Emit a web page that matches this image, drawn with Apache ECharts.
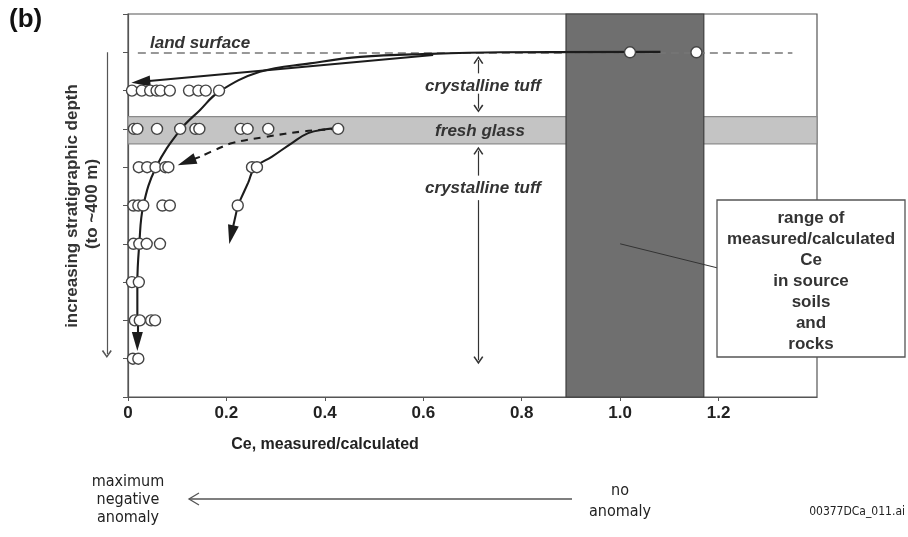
<!DOCTYPE html>
<html>
<head>
<meta charset="utf-8">
<script src="https://cdn.jsdelivr.net/npm/echarts@6/dist/echarts.min.js"></script>
<style>
  html, body { margin: 0; padding: 0; background: #ffffff; }
  #chart { width: 908px; height: 537px; }
</style>
</head>
<body>
<div id="chart"></div>
<script>
// Tick labels along the Ce axis
const xTickLabels = ['0', '0.2', '0.4', '0.6', '0.8', '1.0', '1.2'];

// Sampled horizons, from the land surface (1) downward
const depthLevels = [1, 2, 3, 4, 5, 6, 7, 8, 9];

// Ce (measured/calculated) for the samples at each horizon
const ceByLevel = [
  [1.02, 1.155],
  [0.008, 0.028, 0.045, 0.058, 0.066, 0.085, 0.124, 0.143, 0.158, 0.185],
  [0.012, 0.019, 0.059, 0.106, 0.137, 0.145, 0.229, 0.243, 0.285, 0.427],
  [0.022, 0.039, 0.056, 0.076, 0.082, 0.252, 0.262],
  [0.011, 0.021, 0.031, 0.070, 0.085, 0.223],
  [0.011, 0.023, 0.038, 0.065],
  [0.008, 0.022],
  [0.014, 0.024, 0.047, 0.055],
  [0.010, 0.021]
];

// Range of Ce in source soils and rocks
const sourceRange = [0.89, 1.17];
// Fresh-glass horizon (depth units)
const glassLayer = [2.68, 3.39];

// Trend from the land surface down through the crystalline tuff
const surfaceTrendX = [1.082, 0.757, 0.614, 0.472, 0.370, 0.268, 0.185, 0.146, 0.106, 0.057, 0.031, 0.023, 0.019, 0.019];
const surfaceTrendY = [0.99, 1.00, 1.04, 1.12, 1.29, 1.51, 2.03, 2.51, 3.03, 4.00, 5.01, 6.00, 7.02, 8.01];

// Trend from the fresh glass into the underlying tuff
const glassTrendX = [0.427, 0.401, 0.366, 0.333, 0.292, 0.258, 0.244, 0.228, 0.223];
const glassTrendY = [2.98, 3.01, 3.11, 3.37, 3.73, 4.00, 4.41, 4.86, 5.01];

// Dashed path from the fresh glass toward the tuff below
const glassDashX = [0.427, 0.36, 0.279, 0.212, 0.177, 0.146];
const glassDashY = [3.00, 3.06, 3.21, 3.37, 3.55, 3.73];

const zip = (xs, ys) => xs.map((x, i) => [x, ys[i]]);
const last = arr => arr[arr.length - 1];

const TRI = 'path://M5,0L10,18L0,18Z';
const CHEVRON = 'path://M0,9L6,0L12,9L10.4,10L6,3.3L1.6,10Z';

const sampleData = [];
ceByLevel.forEach((row, i) => row.forEach(v => sampleData.push([v, depthLevels[i]])));

const bold = "'Liberation Sans', Arial, sans-serif";
const narrow = "'Liberation Sans Narrow', 'DejaVu Sans Condensed', 'Liberation Sans', sans-serif";

const chart = echarts.init(document.getElementById('chart'), null, { renderer: 'canvas' });

const option = {
  backgroundColor: '#ffffff',
  animation: false,
  grid: {
    left: 128, right: 91, top: 14, bottom: 140,
    show: true, borderColor: '#555', borderWidth: 1.2, backgroundColor: '#ffffff'
  },
  xAxis: {
    type: 'value', min: 0, max: 1.4, interval: 0.2,
    axisLine: { onZero: false, lineStyle: { color: '#555', width: 1.2 } },
    axisTick: { show: true, length: 4, lineStyle: { color: '#555' } },
    splitLine: { show: false },
    axisLabel: {
      showMaxLabel: false,
      color: '#222', fontFamily: bold, fontWeight: 'bold', fontSize: 17, margin: 8,
      formatter: v => { const i = Math.round(v / 0.2); return xTickLabels[i] !== undefined ? xTickLabels[i] : ''; }
    }
  },
  yAxis: {
    type: 'value', min: 0, max: 10, interval: 1, inverse: true,
    axisLine: { onZero: false, lineStyle: { color: '#555', width: 1.2 } },
    axisTick: { show: true, length: 5, lineStyle: { color: '#555' } },
    axisLabel: { show: false },
    splitLine: { show: false }
  },
  series: [
    {
      // background bands
      type: 'scatter', data: [], silent: true, z: 1,
      markArea: {
        silent: true,
        data: [
          [{ yAxis: glassLayer[0], itemStyle: { color: '#c4c4c4', borderColor: '#8a8a8a', borderWidth: 1.2 } }, { yAxis: glassLayer[1] }],
          [{ xAxis: sourceRange[0], itemStyle: { color: '#6f6f6f', borderColor: '#3e3e3e', borderWidth: 1.2 } }, { xAxis: sourceRange[1] }]
        ]
      }
    },
    {
      // land surface
      type: 'lines', coordinateSystem: 'cartesian2d', silent: true, z: 2,
      lineStyle: { color: '#777', width: 1.6, type: [8, 5], opacity: 1 },
      data: [{ coords: [[0.02, depthLevels[0]], [1.35, depthLevels[0]]] }]
    },
    {
      type: 'line', data: zip(surfaceTrendX, surfaceTrendY), smooth: 0.4, showSymbol: false, silent: true, z: 3,
      lineStyle: { color: '#1c1c1c', width: 2.1 }
    },
    {
      type: 'line', data: zip(glassTrendX, glassTrendY), smooth: 0.4, showSymbol: false, silent: true, z: 3,
      lineStyle: { color: '#1c1c1c', width: 2.1 }
    },
    {
      type: 'line', data: zip(glassDashX, glassDashY), smooth: 0.4, showSymbol: false, silent: true, z: 3,
      lineStyle: { color: '#1c1c1c', width: 2.1, type: [7, 6] }
    },
    {
      // filled arrowheads on the trends
      type: 'lines', coordinateSystem: 'cartesian2d', silent: true, z: 3,
      symbol: ['none', TRI], symbolSize: [[11, 19], [11, 19]],
      lineStyle: { color: '#1c1c1c', width: 2.1, opacity: 1 },
      data: [
        { coords: [[last(surfaceTrendX), last(surfaceTrendY)], [0.019, 8.55]] },
        { coords: [[last(glassTrendX), last(glassTrendY)], [0.210, 5.76]] },
        { coords: [[0.62, 1.07], [0.026, 1.77]] },
        { coords: [[last(glassDashX), last(glassDashY)], [0.119, 3.86]], lineStyle: { type: [7, 6] } }
      ]
    },
    {
      // open arrows bracketing the tuff units
      type: 'lines', coordinateSystem: 'cartesian2d', silent: true, z: 3, clip: false,
      symbol: ['none', CHEVRON], symbolSize: [[10, 8], [10, 8]],
      lineStyle: { color: '#333', width: 1.2, opacity: 1 },
      data: [
        { coords: [[0.712, 1.55], [0.712, 1.20]] },
        { coords: [[0.712, 2.08], [0.712, 2.47]] },
        { coords: [[0.712, 4.22], [0.712, 3.57]] },
        { coords: [[0.712, 4.86], [0.712, 9.04]] },
        { coords: [[-0.043, 1.0], [-0.043, 8.88]], lineStyle: { color: '#555' } }
      ]
    },
    {
      // leader to the source-range note
      type: 'lines', coordinateSystem: 'cartesian2d', silent: true, z: 3, clip: false,
      lineStyle: { color: '#333', width: 1, opacity: 1 },
      data: [{ coords: [[1.0, 6.0], [1.198, 6.63]] }]
    },
    {
      type: 'scatter', data: sampleData, symbol: 'circle', symbolSize: 11, silent: true, z: 5,
      itemStyle: { color: '#ffffff', borderColor: '#444', borderWidth: 1.4, opacity: 1 }
    }
  ],
  graphic: [
    { type: 'text', left: 9, top: 7, z: 50, style: { text: '(b)', font: `bold 26px ${bold}`, fill: '#111' } },
    { type: 'text', x: 72, y: 206, rotation: Math.PI / 2, z: 50,
      style: { text: 'increasing stratigraphic depth', font: `bold 17px ${bold}`, fill: '#333', textAlign: 'center', textVerticalAlign: 'middle' } },
    { type: 'text', x: 92, y: 204, rotation: Math.PI / 2, z: 50,
      style: { text: '(to ~400 m)', font: `bold 17px ${bold}`, fill: '#333', textAlign: 'center', textVerticalAlign: 'middle' } },
    { type: 'text', x: 150, y: 43, z: 50,
      style: { text: 'land surface', font: `italic bold 17px ${bold}`, fill: '#333', textAlign: 'left', textVerticalAlign: 'middle' } },
    { type: 'text', x: 483, y: 86, z: 50,
      style: { text: 'crystalline tuff', font: `italic bold 17px ${bold}`, fill: '#333', textAlign: 'center', textVerticalAlign: 'middle' } },
    { type: 'text', x: 480, y: 131, z: 50,
      style: { text: 'fresh glass', font: `italic bold 17px ${bold}`, fill: '#333', textAlign: 'center', textVerticalAlign: 'middle' } },
    { type: 'text', x: 483, y: 188, z: 50,
      style: { text: 'crystalline tuff', font: `italic bold 17px ${bold}`, fill: '#333', textAlign: 'center', textVerticalAlign: 'middle' } },
    { type: 'rect', z: 40, shape: { x: 717, y: 200, width: 188, height: 157 },
      style: { fill: '#ffffff', stroke: '#555', lineWidth: 1.3 } },
    { type: 'text', x: 811, y: 281, z: 50,
      style: { text: 'range of\nmeasured/calculated\nCe\nin source\nsoils\nand\nrocks', font: `bold 17px ${bold}`, lineHeight: 21,
        fill: '#333', textAlign: 'center', textVerticalAlign: 'middle' } },
    { type: 'text', x: 325, y: 445, z: 50,
      style: { text: 'Ce, measured/calculated', font: `bold 16px ${bold}`, fill: '#222', textAlign: 'center', textVerticalAlign: 'middle' } },
    { type: 'text', x: 128, y: 500, z: 50,
      style: { text: 'maximum\nnegative\nanomaly', font: `16px ${narrow}`, lineHeight: 18, fill: '#222', textAlign: 'center', textVerticalAlign: 'middle' } },
    { type: 'line', z: 50, shape: { x1: 189, y1: 499, x2: 572, y2: 499 }, style: { stroke: '#555', lineWidth: 1.3 } },
    { type: 'polyline', z: 50, shape: { points: [[199, 493], [189, 499], [199, 505]] }, style: { stroke: '#555', lineWidth: 1.3, fill: null } },
    { type: 'text', x: 620, y: 501, z: 50,
      style: { text: 'no\nanomaly', font: `16px ${narrow}`, lineHeight: 21, fill: '#222', textAlign: 'center', textVerticalAlign: 'middle' } },
    { type: 'text', x: 905, y: 512, z: 50,
      style: { text: '00377DCa_011.ai', font: `12px ${narrow}`, fill: '#222', textAlign: 'right', textVerticalAlign: 'middle' } }
  ]
};

chart.setOption(option);
</script>
</body>
</html>
